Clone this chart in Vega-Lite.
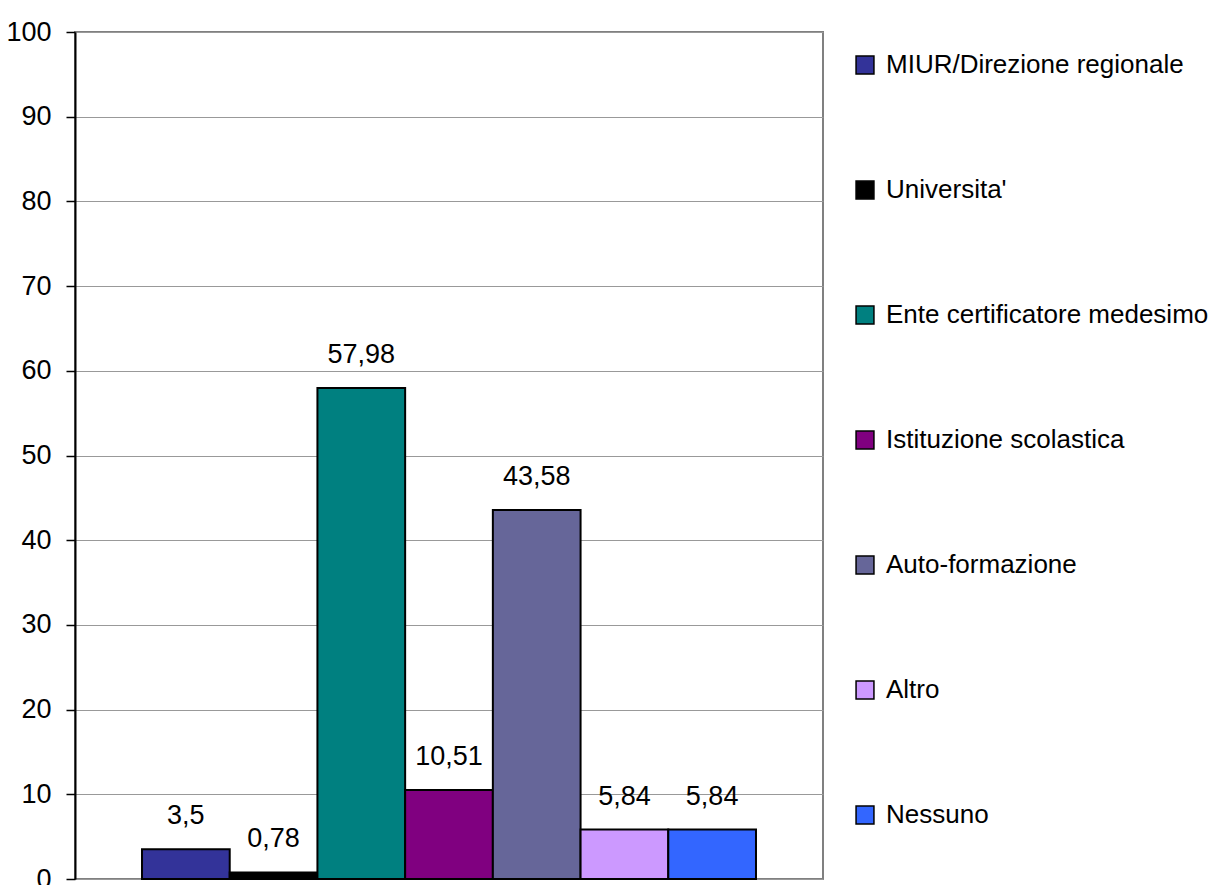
{
  "$schema": "https://vega.github.io/schema/vega-lite/v6.json",
  "width": 748,
  "height": 847,
  "autosize": {"type": "none"},
  "padding": {"left": 75, "top": 32, "right": 398, "bottom": 6},
  "background": "white",
  "config": {
    "font": "'Liberation Sans Narrow', 'Liberation Sans', Arial, sans-serif",
    "view": {"stroke": "#808080", "strokeWidth": 2},
    "locale": {"number": {"decimal": ",", "thousands": ".", "grouping": [3], "currency": ["", " €"]}}
  },
  "data": {
    "values": [
      {"categoria": "MIUR/Direzione regionale", "valore": 3.5},
      {"categoria": "Universita'", "valore": 0.78},
      {"categoria": "Ente certificatore medesimo", "valore": 57.98},
      {"categoria": "Istituzione scolastica", "valore": 10.51},
      {"categoria": "Auto-formazione", "valore": 43.58},
      {"categoria": "Altro", "valore": 5.84},
      {"categoria": "Nessuno", "valore": 5.84}
    ]
  },
  "encoding": {
    "x": {
      "field": "categoria",
      "type": "nominal",
      "sort": null,
      "axis": null,
      "scale": {"paddingInner": 0, "paddingOuter": 0.764}
    },
    "y": {
      "field": "valore",
      "type": "quantitative",
      "scale": {"domain": [0, 100], "nice": false},
      "axis": {
        "title": null,
        "values": [0, 10, 20, 30, 40, 50, 60, 70, 80, 90, 100],
        "grid": true,
        "gridColor": "#999999",
        "gridWidth": 1,
        "domainColor": "#000000",
        "domainWidth": 2,
        "tickColor": "#000000",
        "tickWidth": 1.5,
        "tickSize": 9,
        "labelPadding": 15,
        "labelFontSize": 27,
        "labelColor": "#000000"
      }
    }
  },
  "layer": [
    {
      "mark": {"type": "bar", "stroke": "#000000", "strokeWidth": 2},
      "encoding": {
        "color": {
          "field": "categoria",
          "type": "nominal",
          "sort": null,
          "scale": {
            "domain": ["MIUR/Direzione regionale", "Universita'", "Ente certificatore medesimo", "Istituzione scolastica", "Auto-formazione", "Altro", "Nessuno"],
            "range": ["#333399", "#000000", "#008080", "#800080", "#666699", "#CC99FF", "#3366FF"]
          },
          "legend": {
            "title": null,
            "orient": "none",
            "legendX": 777,
            "legendY": 20,
            "padding": 0,
            "symbolType": "square",
            "symbolSize": 320,
            "symbolStrokeColor": "#000000",
            "symbolStrokeWidth": 1.5,
            "symbolOpacity": 1,
            "labelFontSize": 26,
            "labelColor": "#000000",
            "labelOffset": 8,
            "labelLimit": 400,
            "rowPadding": 99
          }
        }
      }
    },
    {
      "mark": {"type": "text", "baseline": "alphabetic", "dy": -25, "fontSize": 27, "color": "#000000"},
      "encoding": {
        "text": {"field": "valore", "type": "quantitative", "format": "~g"}
      }
    }
  ]
}
